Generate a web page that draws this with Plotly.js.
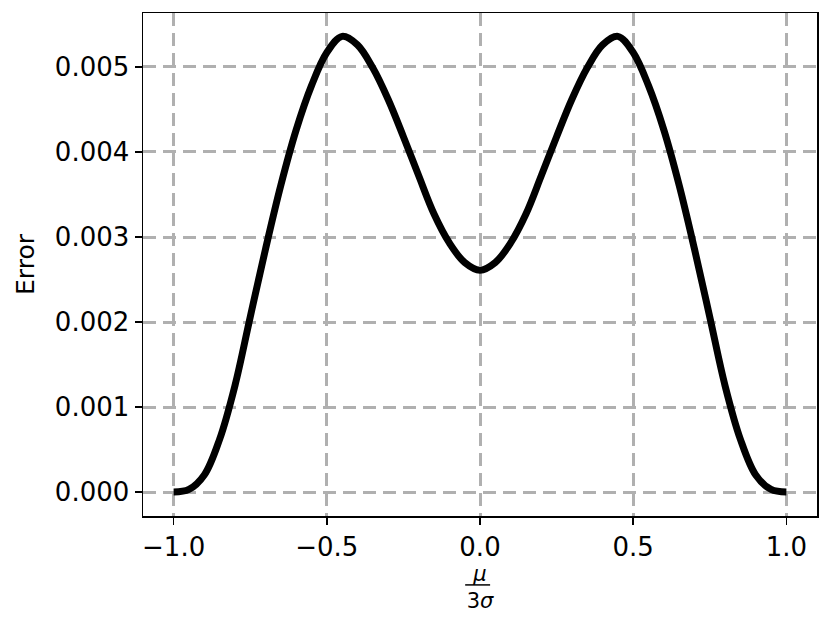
<!DOCTYPE html>
<html>
<head>
<meta charset="utf-8">
<script src="https://cdn.plot.ly/plotly-3.0.1.min.js"></script>
<style>
  html, body { margin: 0; padding: 0; background: #fff; }
  #plot { width: 830px; height: 619px; }
</style>
</head>
<body>
<div id="plot"></div>
<script>
// error curve, mu / (3 sigma) vs error
const xVals = [
  -1.0, -0.95, -0.9, -0.85, -0.8, -0.75, -0.7, -0.65, -0.6, -0.55, -0.5,
  -0.45, -0.4, -0.35, -0.3, -0.25, -0.2, -0.15, -0.1, -0.05, 0.0,
  0.05, 0.1, 0.15, 0.2, 0.25, 0.3, 0.35, 0.4, 0.45, 0.5,
  0.55, 0.6, 0.65, 0.7, 0.75, 0.8, 0.85, 0.9, 0.95, 1.0
];
const errVals = [
  0.0, 0.00003, 0.0002, 0.00062, 0.00125, 0.00206, 0.00286, 0.00361, 0.00426, 0.00478, 0.00517,
  0.00536, 0.00526, 0.00499, 0.00462, 0.00418, 0.00372, 0.00327, 0.00293, 0.0027, 0.00261,
  0.0027, 0.00293, 0.00327, 0.00372, 0.00418, 0.00462, 0.00499, 0.00526, 0.00536, 0.00517,
  0.00478, 0.00426, 0.00361, 0.00286, 0.00206, 0.00125, 0.00062, 0.0002, 0.00003, 0.0
];
const xTicks = [-1.0, -0.5, 0.0, 0.5, 1.0];
const yTicks = [0.0, 0.001, 0.002, 0.003, 0.004, 0.005];

const trace = {
  x: xVals,
  y: errVals,
  mode: "lines",
  line: { color: "#000", width: 7, shape: "spline", smoothing: 1 },
  hoverinfo: "skip",
};

const gridStyle = {
  showgrid: true,
  gridcolor: "#b0b0b0",
  gridwidth: 3,
  griddash: "13px,7px",
  zeroline: false,
  showline: true,
  linecolor: "#000",
  linewidth: 1.5,
  mirror: true,
  ticks: "outside",
  ticklen: 7,
  tickwidth: 1.5,
  tickcolor: "#000",
  tickfont: { size: 26, color: "#000" },
};

const layout = {
  width: 830,
  height: 619,
  margin: { l: 143, r: 13, t: 13, b: 103 },
  paper_bgcolor: "#fff",
  plot_bgcolor: "#fff",
  font: { family: "DejaVu Sans, sans-serif", color: "#000" },
  showlegend: false,
  xaxis: Object.assign({}, gridStyle, {
    range: [-1.1, 1.1],
    tickvals: xTicks,
    tickformat: ".1f",
    title: { text: "<i>μ</i><br>3<i>σ</i>", font: { size: 21 }, standoff: 0 },
  }),
  yaxis: Object.assign({}, gridStyle, {
    range: [-0.000282, 0.005635],
    tickvals: yTicks,
    tickformat: ".3f",
    title: { text: "Error", font: { size: 25 }, standoff: 13 },
  }),
  shapes: [
    {
      // fraction bar of the x title
      type: "line",
      xref: "paper",
      yref: "paper",
      x0: 0.478,
      x1: 0.515,
      y0: -0.137,
      y1: -0.137,
      line: { color: "#000", width: 1.5 },
    },
  ],
};

Plotly.newPlot("plot", [trace], layout, { displayModeBar: false, staticPlot: true });
</script>
</body>
</html>
